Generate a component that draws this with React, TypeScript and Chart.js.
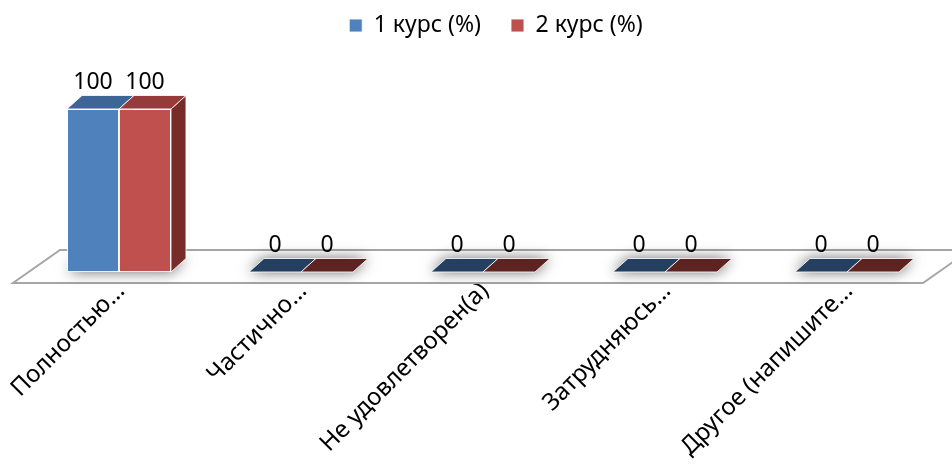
import React, { useEffect, useRef } from "react";
import { Chart, registerables } from "chart.js";

Chart.register(...registerables);

const categories = ["Полностью…", "Частично…", "Не удовлетворен(а)", "Затрудняюсь…", "Другое (напишите…"];
const seriesNames = ["1 курс (%)", "2 курс (%)"];
const course1 = [100, 0, 0, 0, 0];
const course2 = [100, 0, 0, 0, 0];

const FRONT = ["#4f81bd", "#c0504d"];
const TOP = ["#3d6696", "#963b39"];
const TOP_ZERO = ["#243f60", "#5c2321"];
const SIDE = ["#30507a", "#772c2a"];
const DX = 15;
const DY = -13.5;
const FONT = "'Noto Sans', 'Open Sans', sans-serif";

const bar3d = {
  id: "bar3d",
  afterLayout(chart: any) {
    const lg = chart.legend;
    if (lg) {
      lg.left += 13;
      lg.right += 13;
    }
  },
  beforeDatasetsDraw(chart: any) {
    const { ctx, chartArea: a } = chart;
    ctx.save();
    // floor
    const fy = a.bottom + 11;
    const by = a.bottom - 22;
    ctx.beginPath();
    ctx.moveTo(a.left - 15, fy);
    ctx.lineTo(a.right - 15, fy);
    ctx.lineTo(a.right + 32, by);
    ctx.lineTo(a.left + 32, by);
    ctx.closePath();
    ctx.fillStyle = "#ffffff";
    ctx.fill();
    ctx.lineWidth = 2;
    ctx.strokeStyle = "#a6a6a6";
    ctx.stroke();

    const metas = chart.data.datasets.map((_: any, i: number) => chart.getDatasetMeta(i));
    const n = chart.data.labels.length;
    // soft shadows around bar footprints
    for (let j = 0; j < n; j++) {
      const first = metas[0].data[j];
      const last = metas[metas.length - 1].data[j];
      const L = first.x - first.width / 2;
      const R = last.x + last.width / 2;
      const base = first.base;
      ctx.save();
      ctx.shadowColor = "rgba(0,0,0,0.6)";
      ctx.shadowBlur = 14;
      ctx.fillStyle = "#9a9a9a";
      ctx.beginPath();
      ctx.moveTo(L, base);
      ctx.lineTo(R, base);
      ctx.lineTo(R + DX, base + DY);
      ctx.lineTo(L + DX, base + DY);
      ctx.closePath();
      ctx.fill();
      ctx.restore();
    }
    // side and top faces
    metas.forEach((meta: any, i: number) => {
      meta.data.forEach((el: any, j: number) => {
        const v = chart.data.datasets[i].data[j];
        const { x, y, base, width } = el.getProps(["x", "y", "base", "width"], true);
        const L = x - width / 2;
        const R = x + width / 2;
        ctx.lineWidth = 1;
        ctx.strokeStyle = "rgba(255,255,255,0.85)";
        if (v > 0) {
          ctx.beginPath();
          ctx.moveTo(R, y);
          ctx.lineTo(R + DX, y + DY);
          ctx.lineTo(R + DX, base + DY);
          ctx.lineTo(R, base);
          ctx.closePath();
          ctx.fillStyle = SIDE[i];
          ctx.fill();
          ctx.stroke();
        }
        ctx.beginPath();
        ctx.moveTo(L, y);
        ctx.lineTo(R, y);
        ctx.lineTo(R + DX, y + DY);
        ctx.lineTo(L + DX, y + DY);
        ctx.closePath();
        ctx.fillStyle = v > 0 ? TOP[i] : TOP_ZERO[i];
        ctx.fill();
        ctx.stroke();
      });
    });
    ctx.restore();
  },
  afterDatasetsDraw(chart: any) {
    const { ctx } = chart;
    ctx.save();
    ctx.font = "23px " + FONT;
    ctx.fillStyle = "#000";
    ctx.textAlign = "center";
    ctx.textBaseline = "middle";
    chart.data.datasets.forEach((ds: any, i: number) => {
      chart.getDatasetMeta(i).data.forEach((el: any, j: number) => {
        ctx.fillText(String(ds.data[j]), el.x, el.y - 27);
      });
    });
    ctx.restore();
  },
};

export default function App() {
  const ref = useRef<HTMLCanvasElement | null>(null);
  useEffect(() => {
    if (!ref.current) return;
    Chart.defaults.font.family = FONT;
    Chart.defaults.color = "#000";
    const chart = new Chart(ref.current, {
      type: "bar",
      data: {
        labels: categories,
        datasets: [
          { label: seriesNames[0], data: course1, backgroundColor: FRONT[0], borderColor: "rgba(255,255,255,0.85)", borderWidth: 1 },
          { label: seriesNames[1], data: course2, backgroundColor: FRONT[1], borderColor: "rgba(255,255,255,0.85)", borderWidth: 1 },
        ],
      },
      options: {
        responsive: false,
        animation: false,
        events: [],
        layout: { padding: { top: -16, left: 28, right: 14, bottom: 0 } },
        datasets: { bar: { categoryPercentage: 0.5714, barPercentage: 1, borderSkipped: false } },
        plugins: {
          legend: {
            position: "top",
            labels: { font: { size: 23, family: FONT }, color: "#000", boxWidth: 13, boxHeight: 13, padding: 30 },
          },
          tooltip: { enabled: false },
        },
        scales: {
          x: {
            grid: { display: false, drawTicks: false },
            border: { display: false },
            ticks: { font: { size: 24, family: FONT }, color: "#000", minRotation: 45, maxRotation: 45, autoSkip: false, padding: 5, labelOffset: 2 },
            afterFit: (s: any) => {
              s.height = 200;
            },
          },
          y: { display: false, min: 0, max: 138 },
        },
      },
      plugins: [bar3d],
    } as any);
    return () => chart.destroy();
  }, []);
  return (
    <div style={{ position: "fixed", left: 0, top: 0, width: 952, height: 472, background: "#fff" }}>
      <canvas ref={ref} width={952} height={472} style={{ display: "block" }} />
    </div>
  );
}
